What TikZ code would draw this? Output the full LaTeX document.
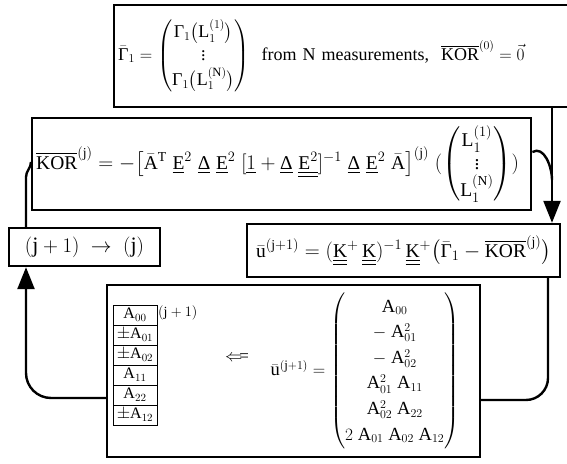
\documentclass[tikz,border=0pt]{standalone}
\usepackage{amsmath}
\usepackage{fontspec}
\setmainfont{Liberation Serif}
\usetikzlibrary{arrows.meta, positioning}

\newcommand{\KOR}{\overline{\mathrm{KOR}}}
\newcommand{\Gam}{\text{Γ}}
\newcommand{\Del}{\underline{\text{Δ}}}
\newcommand{\ddK}{\underline{\underline{\mathrm{K}}}}

\tikzset{
  box/.style={draw, line width=2.4pt, inner sep=4pt},
  cell/.style={draw, line width=0.9pt, outer sep=0pt, inner sep=0pt,
    minimum width=44pt, minimum height=20pt, font=\fontsize{16}{16}\selectfont},
  conn/.style={line width=2.4pt},
  bigtip/.style={-{Triangle[length=22pt,width=17pt]}}
}

\begin{document}
\begin{tikzpicture}[x=1pt, y=1pt, font=\fontsize{17}{20}\selectfont]
  \useasboundingbox[fill=white] (0,0) rectangle (567,463);

  % top box
  \node[box, anchor=west, minimum height=102pt, text width=454pt, font=\fontsize{18}{20}\selectfont] (gam) at (113,407)
    {\def\arraystretch{1.15}$\bar{\Gam}_1 = \begin{pmatrix} \Gam_1\bigl(\mathrm{L}_1^{(1)}\bigr) \\ \vdots \\ \Gam_1\bigl(\mathrm{L}_1^{(\mathrm{N})}\bigr) \end{pmatrix}$\ \ from N measurements,\ \ $\KOR^{(0)} = \vec{0}$};

  % KOR box
  \node[box, anchor=west, minimum height=92pt, text width=491pt, font=\fontsize{19.5}{20}\selectfont] (kor) at (31,299)
    {\def\arraystretch{1.0}$\KOR^{(\mathrm{j})} = -\bigl[\bar{\mathrm{A}}^{\mathrm{T}}\;\underline{\mathrm{E}}^2\;\Del\;\underline{\mathrm{E}}^2\;[\underline{1} + \Del\;\underline{\underline{\mathrm{E}^2}}]^{-1}\;\Del\;\underline{\mathrm{E}}^2\;\bar{\mathrm{A}}\bigr]^{(\mathrm{j})}\;(\begin{pmatrix} \mathrm{L}_1^{(1)} \\ \vdots \\ \mathrm{L}_1^{(\mathrm{N})} \end{pmatrix})$};

  % index shift
  \node[box, minimum width=151pt, minimum height=38pt, font=\fontsize{22}{24}\selectfont] (jj) at (84.5,216)
    {$(\mathrm{j}+1)\;\rightarrow\;(\mathrm{j})$};

  % least squares step
  \node[box, minimum width=313pt, minimum height=53pt, font=\fontsize{19.5}{22}\selectfont] (ubox) at (403.5,212.5)
    {$\bar{\mathrm{u}}^{(\mathrm{j}+1)} = (\ddK^{+}\,\ddK)^{-1}\,\ddK^{+}\bigl(\bar{\Gam}_1 - \KOR^{(\mathrm{j})}\bigr)$};

  % bottom box
  \node[box, minimum width=373pt, minimum height=172pt] (bot) at (293.5,92) {};

  \node[cell] (a00) at (135,148) {$\mathrm{A}_{00}$};
  \node[cell, below=0pt of a00] (a01) {$\pm\mathrm{A}_{01}$};
  \node[cell, below=0pt of a01] (a02) {$\pm\mathrm{A}_{02}$};
  \node[cell, below=0pt of a02] (a11) {$\mathrm{A}_{11}$};
  \node[cell, below=0pt of a11] (a22) {$\mathrm{A}_{22}$};
  \node[cell, below=0pt of a22] (a12) {$\pm\mathrm{A}_{12}$};
  \node[anchor=north west, inner sep=1pt, font=\fontsize{14}{14}\selectfont] (ajp) at (a00.north east) {$(\mathrm{j}+1)$};

  \node (larr) at (237,105) {$\Longleftarrow$};
  \node[font=\fontsize{18.5}{20}\selectfont] (uvec) at (365,92)
    {\def\arraystretch{1.28}$\bar{\mathrm{u}}^{(\mathrm{j}+1)} = \begin{pmatrix}
      \mathrm{A}_{00} \\ -\;\mathrm{A}_{01}^2 \\ -\;\mathrm{A}_{02}^2 \\
      \mathrm{A}_{01}^2\;\mathrm{A}_{11} \\ \mathrm{A}_{02}^2\;\mathrm{A}_{22} \\
      2\;\mathrm{A}_{01}\;\mathrm{A}_{02}\;\mathrm{A}_{12} \end{pmatrix}$};

  % connectors
  \coordinate (rline) at (552,0);
  \coordinate (rlow) at (548,0);
  \coordinate (lline) at (26,0);
  \coordinate (kcurl) at (552,283);

  \draw[conn, bigtip] (gam.south -| rline) -- (ubox.north -| rline);
  \draw[conn] ([yshift=12pt]kor.east) to[out=30, in=90] (kcurl);
  \draw[conn, rounded corners=22pt] (ubox.south -| rlow) |- ([yshift=-29pt]bot.east);
  \draw[conn, bigtip, rounded corners=25pt] ([yshift=-27pt]bot.west) -| (jj.south -| lline);
  \draw[conn] (jj.north -| lline) -- (lline |- 0,286) to[out=90, in=-90] ([yshift=2pt]kor.west);
\end{tikzpicture}
\end{document}
